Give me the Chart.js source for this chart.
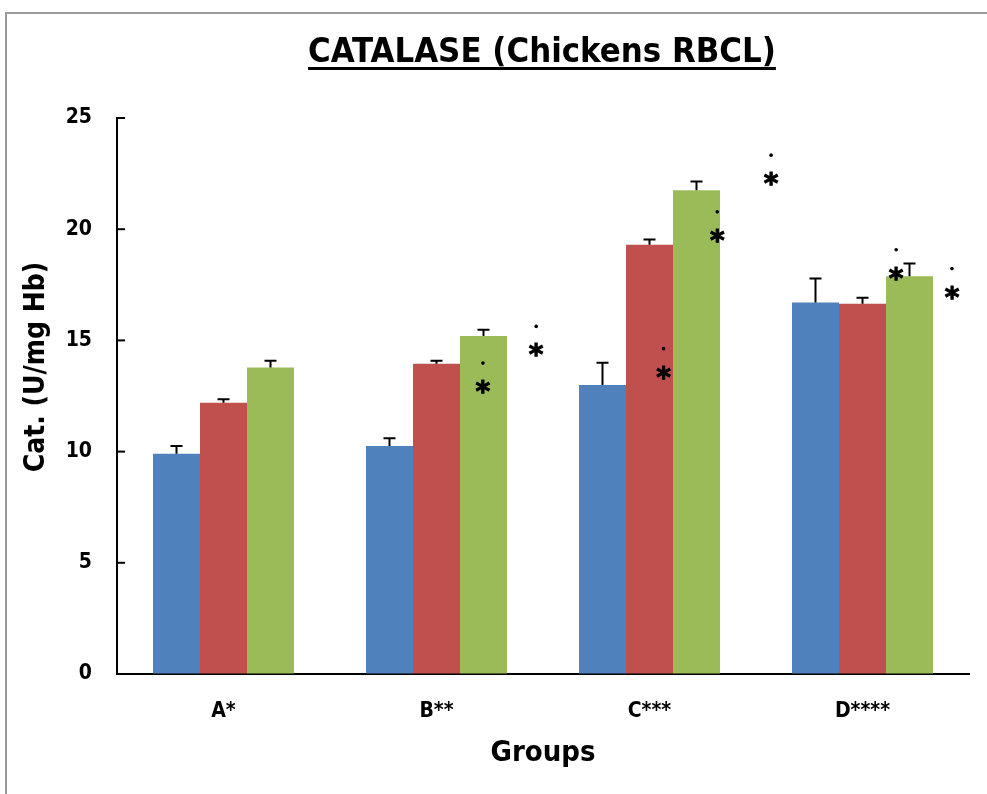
<!DOCTYPE html>
<html>
<head>
<meta charset="utf-8">
<script src="https://cdn.jsdelivr.net/npm/chart.js@4.4.1/dist/chart.umd.min.js"></script>
<style>
  html, body { margin: 0; padding: 0; background: #fff; }
  #wrap { position: relative; width: 987px; height: 794px; }
</style>
</head>
<body>
<div id="wrap"><canvas id="c" width="987" height="794"></canvas></div>
<script>
const chartTitle = 'CATALASE (Chickens RBCL)';
const yAxisTitle = 'Cat. (U/mg Hb)';
const xAxisTitle = 'Groups';
const categories = ['A*', 'B**', 'C***', 'D****'];
const seriesBlue = [9.9, 10.25, 13.0, 16.7];
const seriesRed = [12.2, 13.95, 19.3, 16.65];
const seriesGreen = [13.78, 15.2, 21.75, 17.88];
const errBlue = [0.35, 0.35, 1.0, 1.08];
const errRed = [0.15, 0.13, 0.24, 0.27];
const errGreen = [0.3, 0.28, 0.4, 0.58];
const yTickMin = 0;
const yTickMax = 25;
const yTickStep = 5;
// significance markers (category-scale position, value)
const starX = [1.218, 1.468, 2.066, 2.318, 2.571, 3.158, 3.42];
const starY = [12.9, 14.55, 13.55, 19.7, 22.25, 18.0, 17.15];

const FONT = '"Liberation Sans Narrow", "DejaVu Sans Condensed", "Open Sans", sans-serif';

const framePlugin = {
  id: 'frame',
  beforeDraw(chart) {
    const ctx = chart.ctx;
    ctx.save();
    ctx.fillStyle = '#fff';
    ctx.fillRect(0, 0, chart.width, chart.height);
    ctx.strokeStyle = '#9a9a9a';
    ctx.lineWidth = 2;
    ctx.strokeRect(6, 13, chart.width + 10, chart.height + 10);
    ctx.restore();
  }
};

const titlePlugin = {
  id: 'ulTitle',
  afterDraw(chart) {
    const ctx = chart.ctx;
    ctx.save();
    let size = 40;
    ctx.font = 'bold ' + size + 'px ' + FONT;
    const w0 = ctx.measureText(chartTitle).width;
    size = size * 468 / w0;
    ctx.font = 'bold ' + size + 'px ' + FONT;
    const w = ctx.measureText(chartTitle).width;
    const cx = 542;
    const baseline = 62;
    ctx.fillStyle = '#000';
    ctx.textAlign = 'center';
    ctx.textBaseline = 'alphabetic';
    ctx.fillText(chartTitle, cx, baseline);
    ctx.fillRect(cx - w / 2, baseline + 5, w, 3);
    // y axis title
    ctx.translate(37, 367);
    ctx.rotate(-Math.PI / 2);
    ctx.font = 'bold 28px ' + FONT;
    ctx.textBaseline = 'middle';
    ctx.fillText(yAxisTitle, 0, 0);
    ctx.restore();
  }
};

const errPlugin = {
  id: 'errbars',
  afterDatasetsDraw(chart) {
    const ctx = chart.ctx;
    const ys = chart.scales.y;
    const errs = [errBlue, errRed, errGreen];
    ctx.save();
    ctx.strokeStyle = '#000';
    ctx.lineWidth = 2;
    chart.data.datasets.forEach((ds, i) => {
      const meta = chart.getDatasetMeta(i);
      meta.data.forEach((bar, j) => {
        const v = ds.data[j];
        const top = ys.getPixelForValue(v + errs[i][j]);
        ctx.beginPath();
        ctx.moveTo(bar.x, bar.y);
        ctx.lineTo(bar.x, top);
        ctx.moveTo(bar.x - 6, top);
        ctx.lineTo(bar.x + 6, top);
        ctx.stroke();
      });
    });
    // inward y ticks
    const area = chart.chartArea;
    ys.ticks.forEach(t => {
      const py = ys.getPixelForValue(t.value);
      ctx.beginPath();
      ctx.moveTo(area.left, py);
      ctx.lineTo(area.left + 8, py);
      ctx.stroke();
    });
    // stars
    const xs = chart.scales.x;
    ctx.fillStyle = '#000';
    ctx.font = 'bold 28px "DejaVu Sans", sans-serif';
    ctx.textAlign = 'center';
    ctx.textBaseline = 'alphabetic';
    const m = ctx.measureText('*');
    const asc = m.actualBoundingBoxAscent, desc = m.actualBoundingBoxDescent;
    starX.forEach((sx, k) => {
      const px = xs.getPixelForValue(sx);
      const py = ys.getPixelForValue(starY[k]);
      ctx.lineWidth = 1;
      ctx.strokeStyle = '#000';
      ctx.fillText('*', px, py + (asc - desc) / 2);
      ctx.strokeText('*', px, py + (asc - desc) / 2);
      ctx.beginPath();
      ctx.arc(px, py - 24, 1.8, 0, Math.PI * 2);
      ctx.fill();
    });
    ctx.restore();
  }
};

new Chart(document.getElementById('c'), {
  type: 'bar',
  data: {
    labels: categories,
    datasets: [
      { data: seriesBlue, backgroundColor: '#4F81BD' },
      { data: seriesRed, backgroundColor: '#C0504D' },
      { data: seriesGreen, backgroundColor: '#9BBB59' }
    ]
  },
  options: {
    responsive: false,
    animation: false,
    devicePixelRatio: 1,
    categoryPercentage: 0.662,
    barPercentage: 1.0,
    layout: { padding: { top: 118, right: 18, left: 0, bottom: 0 } },
    plugins: { legend: { display: false }, tooltip: { enabled: false }, title: { display: false } },
    scales: {
      x: {
        grid: { display: true, drawOnChartArea: false, drawTicks: false },
        border: { display: true, color: '#000', width: 2 },
        ticks: { color: '#000', font: { family: FONT, size: 21, weight: 'bold' }, padding: 25 },
        title: { display: true, text: xAxisTitle, color: '#000', font: { family: FONT, size: 29, weight: 'bold' }, padding: { top: 0, bottom: 23 } },
        afterFit(s) { s.height = 120; }
      },
      y: {
        min: yTickMin, max: yTickMax,
        grid: { display: true, drawOnChartArea: false, drawTicks: false },
        border: { display: true, color: '#000', width: 2 },
        ticks: { stepSize: yTickStep, color: '#000', font: { family: FONT, size: 21, weight: 'bold' }, padding: 25 },
        title: { display: false },
        afterFit(s) { s.width = 117; }
      }
    }
  },
  plugins: [framePlugin, errPlugin, titlePlugin]
});
</script>
</body>
</html>
